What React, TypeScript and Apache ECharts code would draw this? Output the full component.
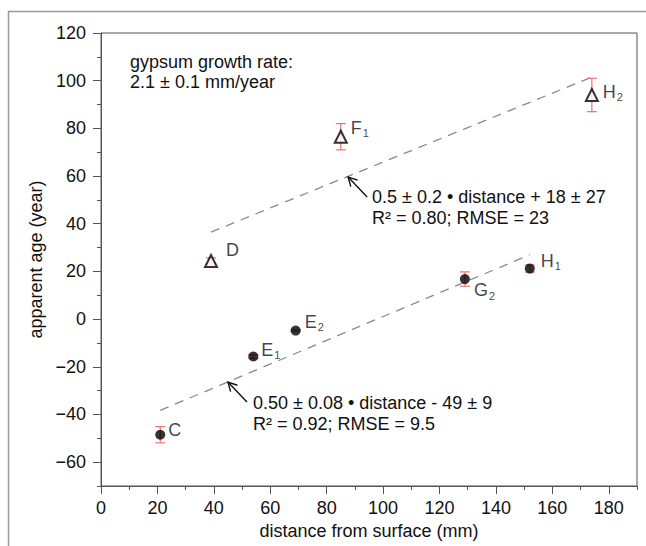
import React, { useEffect, useRef } from "react";
import * as echarts from "echarts";

// ---- data ----
const circleLetters = ["C", "E", "E", "G", "H"];
const circleSubs = ["", "1", "2", "2", "1"];
const circleX = [21, 54, 69, 129, 152];
const circleY = [-48.5, -15.7, -4.8, 16.8, 21.2];
const circleErr = [3.4, 0.8, 0.3, 3, 1.5];

const triLetters = ["D", "F", "H"];
const triSubs = ["", "1", "2"];
const triX = [39, 85, 174];
const triY = [24.4, 76.5, 94];
const triErr = [1.3, 5.5, 7];

const lowerFitX = [21, 152];
const lowerFitY = [-38.3, 27];
const upperFitX = [39, 174];
const upperFitY = [36.5, 101.5];

const arrowTipX = [87.6, 45];
const arrowTipY = [59.6, -26.4];

const xMajor = [0, 20, 40, 60, 80, 100, 120, 140, 160, 180];
const xMinor = [10, 30, 50, 70, 90, 110, 130, 150, 170, 190];
const yMajor = [-60, -40, -20, 0, 20, 40, 60, 80, 100, 120];
const yMinor = [-70, -50, -30, -10, 10, 30, 50, 70, 90, 110];

const growthText = ["gypsum growth rate:", "2.1 \u00b1 0.1 mm/year"];
const upperFitText = ["0.5 \u00b1 0.2 \u2022 distance + 18 \u00b1 27", "R\u00b2 = 0.80; RMSE = 23"];
const lowerFitText = ["0.50 \u00b1 0.08 \u2022 distance - 49 \u00b1 9", "R\u00b2 = 0.92; RMSE = 9.5"];

// ---- layout / style ----
const FONT = '"Liberation Sans", Arial, Helvetica, sans-serif';
const FS = 18;
const RED = "#f07070";
const AXIS = "#555";
const circleLabelOffset = [[-2, -5], [-2, -7], [-1, -9], [-1, 11], [1, -8]];
const triLabelOffset = [[3, -11], [-2, -9], [-1, -3]];

function labelText(letter: string, sub: string) {
  return sub ? `{m|${letter}}{s|${sub}}` : `{m|${letter}}`;
}

const rich = {
  m: { fontSize: FS, fontFamily: FONT, color: "#111", lineHeight: 18, verticalAlign: "top" },
  s: { fontSize: 11, fontFamily: FONT, color: "#111", lineHeight: 10, padding: [11, 0, 0, 1] },
};

export default function App() {
  const ref = useRef<HTMLDivElement>(null);
  useEffect(() => {
    if (!ref.current) return;
    const chart = echarts.init(ref.current, undefined, { renderer: "svg" });

    const errData = [
      ...circleX.map((x, i) => [x, circleY[i] - circleErr[i], circleY[i] + circleErr[i]]),
      ...triX.map((x, i) => [x, triY[i] - triErr[i], triY[i] + triErr[i]]),
    ];

    const axisCommon = {
      type: "value" as const,
      splitLine: { show: false },
    };

    const option: any = {
      animation: false,
      backgroundColor: "#fff",
      grid: {
        left: 101,
        top: 33,
        width: 536,
        height: 453,
        show: true,
        borderColor: AXIS,
        borderWidth: 1,
        backgroundColor: "transparent",
      },
      xAxis: [
        {
          ...axisCommon,
          min: 0,
          max: 190,
          position: "bottom",
          axisLine: { show: true, onZero: false, lineStyle: { color: AXIS, width: 1 } },
          axisTick: { show: true, length: 8, lineStyle: { color: AXIS }, customValues: xMajor },
          axisLabel: { customValues: xMajor, fontSize: FS, fontFamily: FONT, color: "#111", margin: 13 },
          name: "distance from surface (mm)",
          nameLocation: "middle",
          nameGap: 31,
          nameTextStyle: { fontSize: FS, fontFamily: FONT, color: "#111" },
        },
        {
          ...axisCommon,
          min: 0,
          max: 190,
          position: "bottom",
          axisLine: { show: false, onZero: false },
          axisTick: { show: true, length: 4, lineStyle: { color: AXIS }, customValues: xMinor },
          axisLabel: { show: false },
        },
      ],
      yAxis: [
        {
          ...axisCommon,
          min: -70,
          max: 120,
          position: "left",
          axisLine: { show: true, onZero: false, lineStyle: { color: AXIS, width: 1 } },
          axisTick: { show: true, length: 8, lineStyle: { color: AXIS }, customValues: yMajor },
          axisLabel: { customValues: yMajor, fontSize: FS, fontFamily: FONT, color: "#111", margin: 15,
            formatter: (v: number) => (v < 0 ? "\u2212" + Math.abs(v) : String(v)) },
          name: "apparent age (year)",
          nameLocation: "middle",
          nameGap: 51,
          nameTextStyle: { fontSize: FS, fontFamily: FONT, color: "#111" },
        },
        {
          ...axisCommon,
          min: -70,
          max: 120,
          position: "left",
          axisLine: { show: false, onZero: false },
          axisTick: { show: true, length: 4, lineStyle: { color: AXIS }, customValues: yMinor },
          axisLabel: { show: false },
        },
      ],
      series: [
        {
          type: "line",
          data: lowerFitX.map((x, i) => [x, lowerFitY[i]]),
          symbol: "none",
          lineStyle: { color: "#8a8a8a", width: 1.3, type: [9, 7] },
          z: 1,
        },
        {
          type: "line",
          data: upperFitX.map((x, i) => [x, upperFitY[i]]),
          symbol: "none",
          lineStyle: { color: "#8a8a8a", width: 1.3, type: [9, 7] },
          z: 1,
        },
        {
          type: "custom",
          data: errData,
          encode: { x: 0, y: [1, 2] },
          z: 2,
          renderItem: (_p: any, api: any) => {
            const x = api.value(0);
            const a = api.coord([x, api.value(1)]);
            const b = api.coord([x, api.value(2)]);
            const w = 5;
            const st = { stroke: RED, lineWidth: 1.2 };
            return {
              type: "group",
              children: [
                { type: "line", shape: { x1: a[0], y1: a[1], x2: b[0], y2: b[1] }, style: st },
                { type: "line", shape: { x1: a[0] - w, y1: a[1], x2: a[0] + w, y2: a[1] }, style: st },
                { type: "line", shape: { x1: b[0] - w, y1: b[1], x2: b[0] + w, y2: b[1] }, style: st },
              ],
            };
          },
        },
        {
          type: "custom",
          data: arrowTipX.map((x, i) => [x, arrowTipY[i]]),
          z: 3,
          renderItem: (_p: any, api: any) => {
            const t = api.coord([api.value(0), api.value(1)]);
            const dx = 19, dy = 20;
            const len = Math.hypot(dx, dy);
            const ux = dx / len, uy = dy / len;
            const ang = (28 * Math.PI) / 180;
            const hl = 10;
            const rot = (s: number) => [
              ux * Math.cos(s * ang) - uy * Math.sin(s * ang),
              ux * Math.sin(s * ang) + uy * Math.cos(s * ang),
            ];
            const r1 = rot(1), r2 = rot(-1);
            const st = { stroke: "#111", lineWidth: 1.4, fill: "none" };
            return {
              type: "group",
              children: [
                { type: "line", shape: { x1: t[0], y1: t[1], x2: t[0] + dx, y2: t[1] + dy }, style: st },
                {
                  type: "polyline",
                  shape: {
                    points: [
                      [t[0] + r1[0] * hl, t[1] + r1[1] * hl],
                      [t[0], t[1]],
                      [t[0] + r2[0] * hl, t[1] + r2[1] * hl],
                    ],
                  },
                  style: st,
                },
              ],
            };
          },
        },
        {
          type: "scatter",
          data: circleX.map((x, i) => ({
            value: [x, circleY[i]],
            label: { offset: circleLabelOffset[i], formatter: labelText(circleLetters[i], circleSubs[i]) },
          })),
          symbol: "circle",
          symbolSize: 10,
          itemStyle: { color: "#000" },
          z: 4,
          label: { show: true, position: "right", distance: 5, rich },
        },
        {
          type: "scatter",
          data: triX.map((x, i) => ({
            value: [x, triY[i]],
            label: { offset: triLabelOffset[i], formatter: labelText(triLetters[i], triSubs[i]) },
          })),
          symbol: "triangle",
          symbolSize: 12,
          itemStyle: { color: "#fff", borderColor: "#000", borderWidth: 2 },
          z: 4,
          label: { show: true, position: "right", distance: 5, rich },
        },
      ],
      graphic: [
        {
          type: "rect",
          silent: true,
          shape: { x: 8.5, y: 11.5, width: 700, height: 600 },
          style: { fill: "none", stroke: "#999", lineWidth: 1.5 },
        },
        ...growthText.map((t, i) => ({
          type: "text",
          x: 130,
          y: 62 + i * 20,
          style: { text: t, font: `${FS}px ${FONT}`, fill: "#111", textVerticalAlign: "middle", verticalAlign: "middle" },
        })),
        ...upperFitText.map((t, i) => ({
          type: "text",
          x: 372,
          y: 197 + i * 21,
          style: { text: t, font: `${FS}px ${FONT}`, fill: "#111", textVerticalAlign: "middle", verticalAlign: "middle" },
        })),
        ...lowerFitText.map((t, i) => ({
          type: "text",
          x: 253,
          y: 403 + i * 21,
          style: { text: t, font: `${FS}px ${FONT}`, fill: "#111", textVerticalAlign: "middle", verticalAlign: "middle" },
        })),
      ],
    };
    chart.setOption(option);
    return () => chart.dispose();
  }, []);
  return (
    <div
      ref={ref}
      style={{ position: "absolute", left: 0, top: 0, width: 646, height: 546, background: "#fff" }}
    />
  );
}
